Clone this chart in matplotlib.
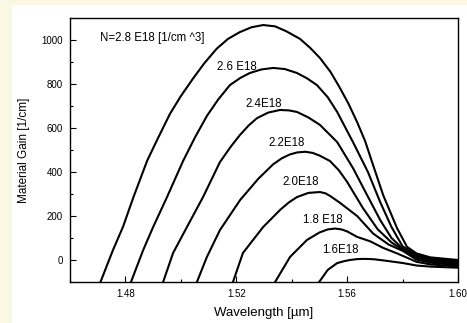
import matplotlib
matplotlib.use("Agg")
import matplotlib.pyplot as plt
from matplotlib.patches import Rectangle
from matplotlib.ticker import MultipleLocator, FixedLocator

# ---- data (wavelength in um, gain in 1/cm) ----
lam_28 = [1.4710, 1.4755, 1.4791, 1.4829, 1.4878, 1.4914, 1.4961, 1.5000, 1.5044, 1.5085,
          1.5129, 1.5170, 1.5213, 1.5255, 1.5297, 1.5340, 1.5380, 1.5430, 1.5466, 1.5502,
          1.5540, 1.5574, 1.5605, 1.5636, 1.5665, 1.5690, 1.5730, 1.5780, 1.5816, 1.5850,
          1.5900, 1.6000]
g_28 = [-100, 45, 150, 286, 450, 545, 665, 745, 825, 895,
        960, 1005, 1036, 1058, 1068, 1062, 1040, 1005, 965, 918,
        855, 782, 710, 627, 540, 445, 295, 145, 60, 30,
        12, 0]

lam_26 = [1.4820, 1.4864, 1.4900, 1.4950, 1.5008, 1.5050, 1.5094, 1.5135, 1.5177, 1.5215,
          1.5249, 1.5290, 1.5333, 1.5375, 1.5419, 1.5455, 1.5491, 1.5530, 1.5564, 1.5621,
          1.5675, 1.5719, 1.5760, 1.5800, 1.5850, 1.5900, 1.6000]
g_26 = [-100, 45, 150, 286, 450, 555, 655, 730, 795, 828,
        850, 866, 873, 868, 850, 826, 795, 740, 673, 536,
        400, 264, 150, 62, 25, 6, -5]

lam_24 = [1.4936, 1.4972, 1.5022, 1.5080, 1.5141, 1.5180, 1.5213, 1.5245, 1.5275, 1.5315,
          1.5358, 1.5390, 1.5419, 1.5460, 1.5502, 1.5564, 1.5621, 1.5672, 1.5720, 1.5760,
          1.5800, 1.5850, 1.5900, 1.6000]
g_24 = [-100, 32, 150, 286, 445, 515, 568, 612, 645, 670,
        682, 680, 673, 648, 614, 536, 418, 295, 180, 100,
        52, 18, 0, -11]

lam_22 = [1.5058, 1.5094, 1.5141, 1.5214, 1.5280, 1.5333, 1.5365, 1.5394, 1.5420, 1.5448,
          1.5475, 1.5500, 1.5538, 1.5570, 1.5600, 1.5657, 1.5710, 1.5760, 1.5800, 1.5850,
          1.5900, 1.6000]
g_22 = [-100, 14, 136, 273, 370, 435, 463, 480, 489, 492,
        487, 475, 450, 408, 355, 236, 140, 80, 46, 10,
        -6, -17]

lam_20 = [1.5188, 1.5224, 1.5297, 1.5360, 1.5390, 1.5419, 1.5460, 1.5502, 1.5522, 1.5540,
          1.5574, 1.5636, 1.5694, 1.5750, 1.5800, 1.5850, 1.5900, 1.6000]
g_20 = [-100, 32, 150, 230, 262, 286, 305, 309, 303, 290,
        260, 200, 120, 70, 42, 2, -12, -23]

lam_18 = [1.5340, 1.5394, 1.5455, 1.5500, 1.5530, 1.5556, 1.5580, 1.5600, 1.5636, 1.5683,
          1.5730, 1.5780, 1.5850, 1.5900, 1.6000]
g_18 = [-100, 14, 91, 125, 139, 143, 139, 130, 105, 85,
        55, 30, -8, -20, -29]

lam_16 = [1.5499, 1.5530, 1.5564, 1.5590, 1.5610, 1.5635, 1.5657, 1.5680, 1.5700, 1.5750,
          1.5802, 1.5850, 1.5900, 1.6000]
g_16 = [-100, -45, -14, -5, 0, 4, 5, 4.5, 3, -5,
        -14, -25, -30, -35]

curve_labels = ["N=2.8 E18 [1/cm ^3]", "2.6 E18", "2.4E18", "2.2E18", "2.0E18", "1.8 E18", "1.6E18"]
x_ticks = [1.48, 1.52, 1.56, 1.60]
x_ticklabels = ["1.48", "1.52", "1.56", "1.60"]
y_ticks = [0, 200, 400, 600, 800, 1000]

plt.rcParams['font.family'] = ['Liberation Sans', 'DejaVu Sans']

W, H = 467, 323
fig = plt.figure(figsize=(W / 100, H / 100), dpi=100)
fig.patch.set_facecolor('#FAF8E3')
fig.patches.append(Rectangle((12 / W, 0), 1 - 12 / W, (H - 5) / H, transform=fig.transFigure,
                             facecolor='white', edgecolor='none', zorder=-10))

ax = fig.add_axes([70 / W, (H - 282) / H, (458 - 70) / W, (282 - 18) / H])
ax.set_zorder(5)
ax.set_facecolor('white')

series = [(lam_28, g_28), (lam_26, g_26), (lam_24, g_24), (lam_22, g_22),
          (lam_20, g_20), (lam_18, g_18), (lam_16, g_16)]
for lx, gy in series:
    ax.plot(lx, gy, color='black', lw=1.5, solid_joinstyle='round')

label_pos = [(1.4708, 1009), (1.5131, 877), (1.5232, 709), (1.5315, 532),
             (1.5365, 355), (1.5441, 182), (1.5510, 45)]
for (lx, ly), t in zip(label_pos, curve_labels):
    ax.text(lx, ly, t, fontsize=8.3, ha='left', va='center', color='black')

ax.set_xlim(1.46, 1.60)
ax.set_ylim(-100, 1100)
ax.xaxis.set_major_locator(FixedLocator(x_ticks))
ax.set_xticklabels(x_ticklabels)
ax.xaxis.set_minor_locator(MultipleLocator(0.02))
ax.yaxis.set_major_locator(FixedLocator(y_ticks))
ax.yaxis.set_minor_locator(MultipleLocator(100))
ax.tick_params(which='both', direction='in', top=False, right=False, labelsize=7, colors='black')
ax.tick_params(which='major', length=4, width=0.8, pad=5)
ax.tick_params(which='minor', length=2, width=0.8)
for s in ax.spines.values():
    s.set_linewidth(1.0)
    s.set_color('black')

ax.set_xlabel("Wavelength [µm]", fontsize=9.5, labelpad=6)
ax.set_ylabel("Material Gain [1/cm]", fontsize=8.5, labelpad=8)

fig.savefig("out.png", dpi=100, facecolor=fig.get_facecolor())
